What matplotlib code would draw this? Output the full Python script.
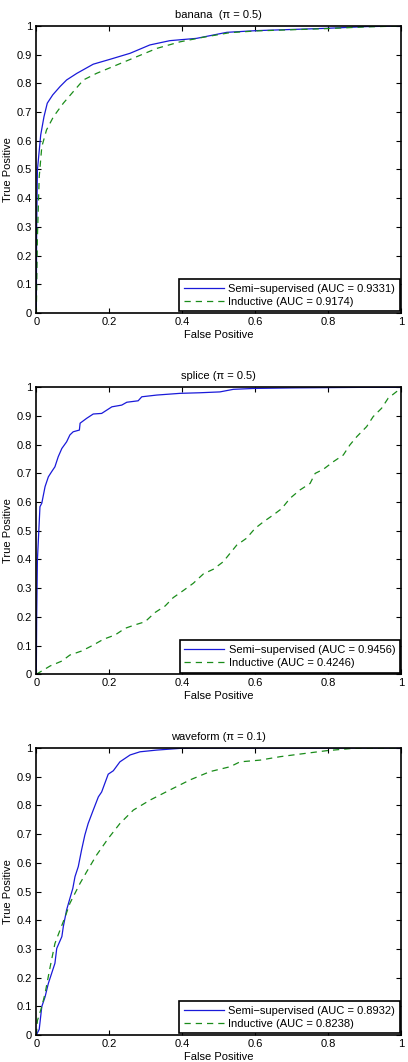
import numpy as np
import matplotlib
matplotlib.use("Agg")
import matplotlib.pyplot as plt

plt.rcParams['font.family'] = ['Liberation Sans', 'DejaVu Sans']
plt.rcParams['font.size'] = 8

# ROC points (false positive, true positive)
banana_semi_fp = [0, 0.001, 0.003, 0.012, 0.021, 0.030, 0.045, 0.065, 0.083, 0.111, 0.156,
                  0.202, 0.257, 0.311, 0.366, 0.439, 0.522, 0.604, 0.796, 0.905, 1.0]
banana_semi_tp = [0, 0.30, 0.498, 0.620, 0.684, 0.731, 0.760, 0.789, 0.812, 0.835, 0.867,
                  0.884, 0.905, 0.934, 0.949, 0.957, 0.978, 0.984, 0.992, 0.998, 1.0]
banana_ind_fp = [0, 0.003, 0.008, 0.015, 0.028, 0.047, 0.074, 0.101, 0.129, 0.165, 0.220,
                 0.275, 0.330, 0.394, 0.458, 0.531, 0.604, 0.796, 0.905, 1.0]
banana_ind_tp = [0, 0.263, 0.475, 0.579, 0.638, 0.684, 0.731, 0.771, 0.812, 0.835, 0.864,
                 0.893, 0.922, 0.945, 0.961, 0.977, 0.983, 0.991, 0.997, 1.0]

splice_semi_fp = [0, 0.001, 0.003, 0.010, 0.015, 0.024, 0.033, 0.042, 0.051, 0.060, 0.070,
                  0.083, 0.092, 0.101, 0.118, 0.120, 0.138, 0.156, 0.179, 0.207, 0.234,
                  0.248, 0.279, 0.289, 0.330, 0.394, 0.448, 0.503, 0.540, 0.595, 0.704,
                  0.905, 1.0]
splice_semi_tp = [0, 0.20, 0.398, 0.584, 0.596, 0.654, 0.688, 0.706, 0.723, 0.758, 0.787,
                  0.810, 0.834, 0.845, 0.851, 0.875, 0.892, 0.907, 0.909, 0.932, 0.938,
                  0.948, 0.953, 0.967, 0.973, 0.979, 0.981, 0.984, 0.993, 0.996, 0.998,
                  1.0, 1.0]
splice_ind_fp = [0, 0.038, 0.070, 0.092, 0.124, 0.152, 0.184, 0.216, 0.243, 0.270, 0.298,
                 0.325, 0.353, 0.375, 0.403, 0.430, 0.458, 0.485, 0.512, 0.549, 0.576,
                 0.599, 0.622, 0.649, 0.672, 0.695, 0.722, 0.750, 0.764, 0.786, 0.814,
                 0.841, 0.859, 0.878, 0.905, 0.923, 0.946, 0.964, 0.987, 1.0]
splice_ind_tp = [0, 0.029, 0.046, 0.067, 0.081, 0.099, 0.122, 0.137, 0.160, 0.172, 0.183,
                 0.215, 0.238, 0.267, 0.292, 0.317, 0.350, 0.366, 0.392, 0.450, 0.474,
                 0.508, 0.531, 0.555, 0.577, 0.613, 0.642, 0.665, 0.700, 0.714, 0.741,
                 0.764, 0.799, 0.828, 0.863, 0.898, 0.927, 0.962, 0.985, 0.995]

wave_semi_fp = [0, 0.008, 0.015, 0.024, 0.033, 0.042, 0.051, 0.056, 0.070, 0.074, 0.083,
                0.092, 0.100, 0.106, 0.115, 0.124, 0.133, 0.142, 0.156, 0.170, 0.179,
                0.197, 0.211, 0.229, 0.257, 0.284, 0.330, 0.394, 0.45, 1.0]
wave_semi_tp = [0, 0.02, 0.099, 0.133, 0.180, 0.215, 0.250, 0.302, 0.343, 0.378, 0.436,
                0.476, 0.511, 0.552, 0.587, 0.645, 0.697, 0.737, 0.784, 0.830, 0.847,
                0.909, 0.921, 0.952, 0.976, 0.987, 0.993, 0.999, 1.0, 1.0]
wave_ind_fp = [0, 0.003, 0.015, 0.024, 0.038, 0.051, 0.065, 0.079, 0.092, 0.106, 0.120,
               0.138, 0.165, 0.197, 0.229, 0.266, 0.312, 0.366, 0.421, 0.476, 0.531,
               0.558, 0.613, 0.668, 0.722, 0.796, 0.868, 1.0]
wave_ind_tp = [0, 0.05, 0.099, 0.145, 0.238, 0.319, 0.366, 0.412, 0.459, 0.494, 0.529,
               0.569, 0.627, 0.685, 0.737, 0.784, 0.819, 0.854, 0.889, 0.918, 0.935,
               0.952, 0.958, 0.970, 0.979, 0.991, 0.999, 1.0]

titles = ['banana  (\u03c0 = 0.5)', 'splice (\u03c0 = 0.5)', 'waveform (\u03c0 = 0.1)']
semi_auc = ['0.9331', '0.9456', '0.8932']
ind_auc = ['0.9174', '0.4246', '0.8238']

panels = [
    (banana_semi_fp, banana_semi_tp, banana_ind_fp, banana_ind_tp),
    (splice_semi_fp, splice_semi_tp, splice_ind_fp, splice_ind_tp),
    (wave_semi_fp, wave_semi_tp, wave_ind_fp, wave_ind_tp),
]

fig = plt.figure(figsize=(4.08, 10.62), dpi=100)
bottoms = [0.7053, 0.3651, 0.0254]

for k in range(3):
    ax = fig.add_axes([0.089, bottoms[k], 0.8946, 0.2702])
    sfp, stp, ifp, itp = panels[k]
    ax.plot(sfp, stp, color=(0.1, 0.1, 0.85), lw=0.9,
            label='Semi\u2212supervised (AUC = %s)' % semi_auc[k])
    ax.plot(ifp, itp, color=(0.1, 0.55, 0.1), lw=0.9, ls=(0, (5, 4)),
            label='Inductive (AUC = %s)' % ind_auc[k])
    ax.set_xlim(0, 1)
    ax.set_ylim(0, 1)
    ax.set_xticks(np.arange(0, 1.01, 0.2))
    ax.set_xticklabels(['0', '0.2', '0.4', '0.6', '0.8', '1'])
    ax.set_yticks(np.arange(0, 1.01, 0.1))
    ax.set_yticklabels(['0'] + ['0.%d' % i for i in range(1, 10)] + ['1'])
    ax.tick_params(direction='in', top=True, right=True, length=3.5, width=0.8, pad=3)
    for s in ax.spines.values():
        s.set_linewidth(1.2)
    ax.set_title(titles[k], fontsize=8, pad=6)
    ax.set_xlabel('False Positive', labelpad=2)
    ax.set_ylabel('True Positive', labelpad=3)
    leg = ax.legend(loc='lower right', fancybox=False, framealpha=1, edgecolor='black',
                    borderaxespad=0.15, handlelength=3.6, handletextpad=0.4,
                    borderpad=0.4, labelspacing=0.3, fontsize=8)
    leg.get_frame().set_linewidth(1.2)

fig.savefig('out.png', dpi=100)
